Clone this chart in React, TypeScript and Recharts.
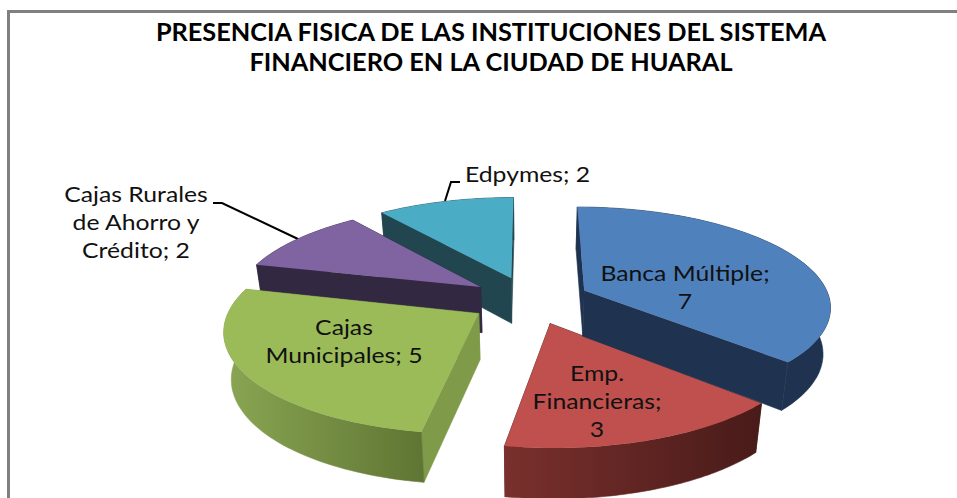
import { PieChart, Pie } from "recharts";

// counter-clockwise from the top, so each slice paints over the one behind it
const categories = ["Edpymes", "Cajas Rurales de Ahorro y Crédito", "Cajas Municipales", "Emp. Financieras", "Banca Múltiple"];
const values = [2, 2, 5, 3, 7];
const labelLines = [
  ["Edpymes; 2"],
  ["Cajas Rurales", "de Ahorro y", "Crédito; 2"],
  ["Cajas", "Municipales; 5"],
  ["Emp.", "Financieras;", "3"],
  ["Banca Múltiple;", "7"],
];
const titleLines = ["PRESENCIA FISICA DE LAS INSTITUCIONES DEL SISTEMA", "FINANCIERO EN LA CIUDAD DE HUARAL"];

const topColors = ["#4bacc6", "#8064a2", "#9bbb59", "#c0504d", "#4f81bd"];
const wallColors = ["#214650", "#332842", "#7f9a49", "#4d1f1d", "#1f3350"];
const rimFrom = ["#214650", "#332842", "#8aa653", "#7a302d", "#1f3350"];
const rimTo = ["#214650", "#332842", "#5f7533", "#481b19", "#1f3350"];

const labelX = [465, 136, 344, 597, 685];
const labelY = [182, 202, 335, 381, 281];
const labelAnchor = ["start", "middle", "middle", "middle", "middle"];

const leaders = [
  "M213 203 L222 203 L298 239",
  "M460 182 L451 182 L445 201",
];

const TILT = 0.4;
const PERSPECTIVE = 0.0006;
const EXPLODE = 60;
const DEPTH = 46;
const BASE_SHRINK = 0.975;
const FONT = "Lato, 'Open Sans', sans-serif";

const rad = (d: number) => (d * Math.PI) / 180;

function project(cx: number, cy: number, u: number, v: number) {
  const f = 1 / (1 + PERSPECTIVE * v);
  return { x: cx + u * f, y: cy - TILT * v * f, h: DEPTH * Math.sqrt(f) };
}

type P = { x: number; y: number; h: number };
const line = (pts: { x: number; y: number }[]) =>
  "M" + pts.map((p) => `${p.x.toFixed(1)} ${p.y.toFixed(1)}`).join(" L") + " Z";

function Slice3D(props: any) {
  const { cx, cy, outerRadius, startAngle, endAngle, name } = props;
  const i = categories.indexOf(name);
  const a0 = 90 - startAngle;
  const a1 = 90 - endAngle;
  const mid = (a0 + a1) / 2;
  const ex = EXPLODE * Math.sin(rad(mid));
  const ey = EXPLODE * Math.cos(rad(mid));
  const at = (r: number, a: number) =>
    project(cx, cy, ex + r * Math.sin(rad(a)), ey + r * Math.cos(rad(a)));
  // the base ring sits a little further away, so it pulls in towards the centre
  const drop = (p: P) => ({ x: cx + (p.x - cx) * BASE_SHRINK, y: p.y + p.h });

  const apex = at(0, a0);
  const arc: P[] = [];
  for (let k = 0; k <= 60; k++) arc.push(at(outerRadius, a0 + ((a1 - a0) * k) / 60));
  const first = arc[0];
  const last = arc[arc.length - 1];
  const gradId = `rim-${i}`;

  return (
    <g>
      <defs>
        <linearGradient id={gradId} x1="0" y1="0" x2="1" y2="0">
          <stop offset="0%" stopColor={rimFrom[i]} />
          <stop offset="100%" stopColor={rimTo[i]} />
        </linearGradient>
      </defs>
      <path d={line([apex, first, drop(first), drop(apex)])} fill={wallColors[i]} stroke={wallColors[i]} strokeWidth={0.6} />
      <path d={line([apex, last, drop(last), drop(apex)])} fill={wallColors[i]} stroke={wallColors[i]} strokeWidth={0.6} />
      <path d={line([...arc, ...arc.map(drop).reverse()])} fill={`url(#${gradId})`} stroke={`url(#${gradId})`} strokeWidth={0.6} />
      <path d={line([apex, ...arc])} fill={topColors[i]} />
    </g>
  );
}

function SliceLabel(props: any) {
  const { index } = props;
  return (
    <text
      transform={`translate(${labelX[index]} ${labelY[index]}) scale(1.125 1)`}
      textAnchor={labelAnchor[index] as any}
      fontFamily={FONT}
      fontSize={22}
      fill="#111"
    >
      {labelLines[index].map((t, k) => (
        <tspan key={t} x={0} dy={k === 0 ? 0 : 28}>
          {t}
        </tspan>
      ))}
    </text>
  );
}

const pieData = categories.map((name, i) => ({ name, value: values[i] }));

export default function App() {
  return (
    <div style={{ position: "absolute", left: 0, top: 0, width: 957, height: 498, overflow: "hidden", background: "#fff" }}>
      <div
        style={{
          position: "absolute",
          left: 7,
          top: 10,
          width: 970,
          height: 520,
          borderLeft: "3px solid #808080",
          borderTop: "3px solid #808080",
        }}
      />
      <PieChart
        width={957}
        height={498}
        margin={{ top: 0, right: 0, bottom: 0, left: 0 }}
        style={{ position: "absolute", left: 0, top: 0 }}
      >
        {titleLines.map((t, i) => (
          <text
            key={t}
            transform={`translate(491 ${41 + i * 30}) scale(1.055 1)`}
            textAnchor="middle"
            fontFamily={FONT}
            fontWeight={700}
            fontSize={24}
            fill="#000"
          >
            {t}
          </text>
        ))}
        <Pie
          data={pieData}
          dataKey="value"
          nameKey="name"
          cx={530}
          cy={300}
          innerRadius={0}
          outerRadius={246}
          startAngle={90}
          endAngle={450}
          stroke="none"
          isAnimationActive={false}
          shape={Slice3D}
          label={SliceLabel}
          labelLine={false}
        />
        {leaders.map((d) => (
          <path key={d} d={d} fill="none" stroke="#000" strokeWidth={2} />
        ))}
      </PieChart>
    </div>
  );
}
